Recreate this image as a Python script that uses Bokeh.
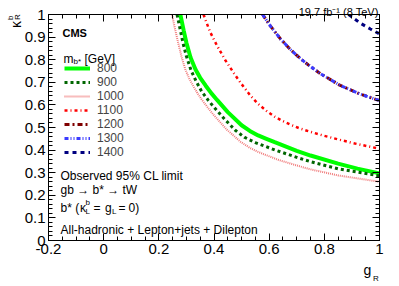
import numpy as np
from bokeh.plotting import figure
from bokeh.models import Range1d, LinearAxis, FixedTicker, Label, Legend, LegendItem
from bokeh.embed import file_html
from bokeh.resources import INLINE

# ---- data ----
masses = ["800", "900", "1000", "1100", "1200", "1300", "1400"]

g_800 = [0.278, 0.29, 0.30, 0.315, 0.333, 0.35, 0.37, 0.39, 0.411, 0.45, 0.50, 0.53, 0.56,
         0.59, 0.62, 0.70, 0.75, 0.85, 0.92, 1.0]
k_800 = [1.0, 0.93, 0.875, 0.81, 0.757, 0.72, 0.685, 0.652, 0.622, 0.568, 0.510, 0.485, 0.465,
         0.450, 0.435, 0.397, 0.376, 0.340, 0.318, 0.297]

g_900 = [0.266, 0.278, 0.288, 0.30, 0.317, 0.335, 0.355, 0.38, 0.40, 0.44, 0.478, 0.51, 0.55,
         0.62, 0.70, 0.749, 0.85, 1.0]
k_900 = [1.0, 0.93, 0.872, 0.815, 0.752, 0.705, 0.66, 0.619, 0.59, 0.535, 0.487, 0.457, 0.433,
         0.401, 0.368, 0.349, 0.317, 0.286]

g_1000 = [0.248, 0.258, 0.27, 0.282, 0.296, 0.31, 0.325, 0.34, 0.357, 0.38, 0.40, 0.447, 0.496,
          0.53, 0.56, 0.63, 0.70, 0.749, 0.85, 1.0]
k_1000 = [1.0, 0.94, 0.875, 0.815, 0.757, 0.717, 0.683, 0.652, 0.621, 0.584, 0.554, 0.49, 0.437,
          0.41, 0.392, 0.358, 0.332, 0.315, 0.288, 0.260]

g_1100 = [0.362, 0.385, 0.411, 0.44, 0.471, 0.50, 0.532, 0.56, 0.592, 0.62, 0.65, 0.68, 0.713,
          0.76, 0.80, 0.90, 1.0]
k_1100 = [1.0, 0.925, 0.862, 0.80, 0.742, 0.692, 0.641, 0.604, 0.572, 0.548, 0.528, 0.511, 0.495,
          0.477, 0.463, 0.432, 0.406]

g_1200 = [0.576, 0.604, 0.641, 0.677, 0.713, 0.743, 0.786, 0.858, 0.930, 1.0]
k_1200 = [1.0, 0.95, 0.892, 0.845, 0.805, 0.776, 0.738, 0.686, 0.648, 0.619]

g_1300 = [0.576, 0.604, 0.641, 0.677, 0.713, 0.743, 0.786, 0.858, 0.930, 1.0]
k_1300 = [1.0, 0.95, 0.892, 0.845, 0.805, 0.776, 0.738, 0.686, 0.648, 0.619]

g_1400 = [0.888, 0.93, 0.967, 1.0]
k_1400 = [1.0, 0.962, 0.936, 0.914]

x_ticks = [-0.2, 0.0, 0.2, 0.4, 0.6, 0.8, 1.0]
x_tick_labels = ["-0.2", "0", "0.2", "0.4", "0.6", "0.8", "1"]
y_ticks = [0.0, 0.1, 0.2, 0.3, 0.4, 0.5, 0.6, 0.7, 0.8, 0.9, 1.0]
y_tick_labels = ["0", "0.1", "0.2", "0.3", "0.4", "0.5", "0.6", "0.7", "0.8", "0.9", "1"]

# ---- figure ----
FONT = "Liberation Sans"
W, H = 399, 286
BL, BR, BT, BB = 48, 20, 14, 46
FW, FH = W - BL - BR, H - BT - BB

p = figure(width=W, height=H, output_backend="svg", toolbar_location=None,
           x_range=Range1d(-0.2, 1.0), y_range=Range1d(0.0, 1.0),
           x_axis_type=None, y_axis_type=None,
           min_border_left=BL, min_border_right=BR, min_border_top=BT, min_border_bottom=BB)
p.outline_line_color = "black"
p.outline_line_width = 1
p.outline_line_alpha = 1
p.background_fill_color = "white"
p.border_fill_color = "white"

x_minor = [round(v, 4) for v in np.arange(-0.2, 1.0001, 0.05)]
y_minor = [round(v, 4) for v in np.arange(0.0, 1.0001, 0.02)]


def make_axis(ticks, labels, minor, show, maj_in, min_in):
    ov = {t: (l if show else "") for t, l in zip(ticks, labels)}
    ax = LinearAxis(ticker=FixedTicker(ticks=ticks, minor_ticks=minor),
                    major_label_overrides=ov,
                    axis_line_color="black", axis_line_width=1,
                    major_tick_line_color="black", minor_tick_line_color="black",
                    major_tick_in=maj_in, major_tick_out=0,
                    minor_tick_in=min_in, minor_tick_out=0,
                    major_label_standoff=3 if show else 0,
                    major_label_text_font=FONT,
                    major_label_text_font_size="15px" if show else "1px",
                    major_label_text_color="black")
    return ax


p.add_layout(make_axis(x_ticks, x_tick_labels, x_minor, True, 7, 4), "below")
p.add_layout(make_axis(x_ticks, x_tick_labels, x_minor, False, 7, 4), "above")
p.add_layout(make_axis(y_ticks, y_tick_labels, y_minor, True, 7, 4), "left")
p.add_layout(make_axis(y_ticks, y_tick_labels, y_minor, False, 7, 4), "right")

# ---- curves ----
styles = [
    (g_800, k_800, "#00ff00", 4, "solid"),
    (g_900, k_900, "#006600", 3, "3 3"),
    (g_1000, k_1000, "#f07a7a", 2, "1 1"),
    (g_1100, k_1100, "#ff0000", 2.5, "3 3 1 3"),
    (g_1200, k_1200, "#800000", 3, "5 3 2 3"),
    (g_1300, k_1300, "#3b3bff", 3, "4 2 1 2 1 2"),
    (g_1400, k_1400, "#000080", 3, "4 4"),
]
rs = []
for g, k, col, w, dash in styles:
    rs.append(p.line(g, k, line_color=col, line_width=w, line_dash=dash))

legend = Legend(items=[LegendItem(label=m, renderers=[r]) for m, r in zip(masses, rs)],
                location=(16, 81), padding=0, margin=0, spacing=0,
                glyph_width=26, glyph_height=12, label_height=12, label_standoff=7,
                label_text_font=FONT, label_text_font_size="12px",
                border_line_alpha=0, background_fill_alpha=0)
p.add_layout(legend)


# ---- texts ----
def px(fx, fy):
    return (-0.2 + (fx - BL) * 1.2 / FW, (BT + FH - fy) / FH)


def lab(text, fx, fy, size, bold=False, align="left", angle=0, place="center"):
    x, y = px(fx, fy)
    p.add_layout(Label(x=x, y=y, text=text, text_font=FONT, text_font_size=f"{size}px",
                       text_font_style="bold" if bold else "normal",
                       text_align=align, text_baseline="alphabetic",
                       angle=angle, angle_units="deg", text_color="black"), place)


# lumi (outside the frame, hosted in the top panel)
lab("19.7 fb\u207b\u00b9 (8 TeV)", 378, 11.5, 11, align="right", place="above")
# CMS
lab("CMS", 62, 32, 11, bold=True)
# legend header m_b* [GeV]
lab("m", 63, 58, 12)
lab("b*", 73, 61, 8)
lab("[GeV]", 84, 58, 12)
# text block
lab("Observed 95% CL limit", 60, 175, 12)
lab("gb \u2192 b* \u2192 tW", 60, 189, 12)
lab("b* (", 60, 207, 12)
lab("\u03ba", 79.5, 207, 12)
lab("b", 85, 202, 8)
lab("L", 85, 210.5, 8)
lab("=", 93, 207, 12)
lab("g", 104.5, 207, 12)
lab("L", 111.5, 210.5, 8)
lab("=", 118, 207, 12)
lab("0)", 128, 207, 12)
lab("All-hadronic + Lepton+jets + Dilepton", 60, 229, 12)
# y axis title kappa^b_R (rotated, outside the frame)
lab("\u03ba", 15, 27.5, 14, angle=90, place="left")
lab("b", 10.3, 19.5, 8, angle=90, place="right")
lab("R", 16.8, 19.5, 8, angle=90, place="right")
# x axis title g_R
lab("g", 363, 269, 14, place="below")
lab("R", 372.5, 278, 8, place="below")

open("out.html", "w").write(file_html(p, INLINE))
